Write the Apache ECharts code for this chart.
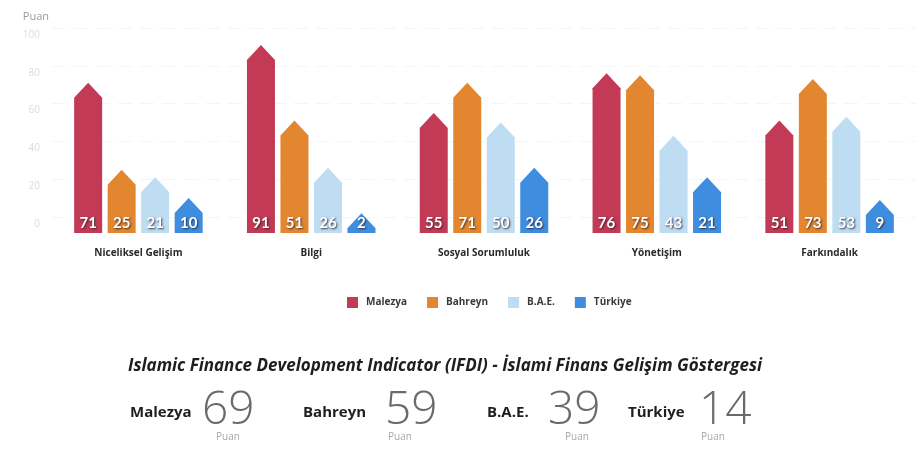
<!DOCTYPE html>
<html>
<head>
<meta charset="utf-8">
<script src="https://cdn.jsdelivr.net/npm/echarts@6/dist/echarts.min.js"></script>
<style>
  html, body { margin: 0; padding: 0; background: #fff; }
  #chart { width: 923px; height: 454px; }
</style>
</head>
<body>
<div id="chart"></div>
<script>
// Pillar categories of the indicator
const categories = ['Niceliksel Gelişim', 'Bilgi', 'Sosyal Sorumluluk', 'Yönetişim', 'Farkındalık'];

// Scores per country for each pillar
const countries = ['Malezya', 'Bahreyn', 'B.A.E.', 'Türkiye'];
const malezya = [71, 91, 55, 76, 51];
const bahreyn = [25, 51, 71, 75, 73];
const bae     = [21, 26, 50, 43, 53];
const turkiye = [10, 2, 26, 21, 9];

// Overall IFDI scores
const ifdiScores = [69, 59, 39, 14];

// Y axis ticks
const yMin = 0, yMax = 100, yStep = 20;

const colors = ['#c23a55', '#e2872f', '#bedcf2', '#3e8ddf'];
const seriesValues = [malezya, bahreyn, bae, turkiye];

const BAR_W = 28;      // px width of each arrow bar
const BAR_GAP = 5.5;   // px between bars inside a group
const TIP_H = 15;      // px height of the arrow head
const FOOT = 16;       // px the bar extends below the zero line (label plinth)

function arrowRenderer(idx) {
  return function (params, api) {
    const cat = api.value(0);
    const val = api.value(1);
    const top = api.coord([cat, val]);
    const zero = api.coord([cat, 0]);
    const xc = top[0] + (idx - 1.5) * (BAR_W + BAR_GAP);
    const bottom = zero[1] + FOOT;
    const peak = top[1];
    const shoulder = Math.min(peak + TIP_H, bottom);
    const half = (shoulder - peak) >= TIP_H ? BAR_W / 2 : (BAR_W / 2) * (shoulder - peak) / TIP_H;
    const pts = [
      [xc - half, bottom],
      [xc - half, shoulder],
      [xc, peak],
      [xc + half, shoulder],
      [xc + half, bottom]
    ];
    return {
      type: 'group',
      children: [
        {
          type: 'polygon',
          shape: { points: pts },
          style: { fill: api.visual('color') }
        },
        {
          type: 'text',
          x: xc,
          y: zero[1] + 6,
          style: {
            text: String(val),
            fill: '#ffffff',
            font: 'bold 15px Lato, "Open Sans", sans-serif',
            align: 'center',
            verticalAlign: 'middle',
            textShadowColor: 'rgba(40,30,40,0.85)',
            textShadowBlur: 2,
            textShadowOffsetX: 1,
            textShadowOffsetY: 1
          },
          z2: 10
        }
      ]
    };
  };
}

const series = countries.map(function (name, i) {
  return {
    name: name,
    type: 'custom',
    color: colors[i],
    itemStyle: { color: colors[i] },
    renderItem: arrowRenderer(i),
    encode: { x: 0, y: 1 },
    data: seriesValues[i].map(function (v, c) { return [c, v]; }),
    clip: false
  };
});

// Summary line: country name, big score, "Puan" caption
const statLayout = [
  { name: 130, num: 202, cap: 216 },
  { name: 303, num: 385, cap: 388 },
  { name: 487, num: 548, cap: 565 },
  { name: 628, num: 699, cap: 701 }
];
const statGraphics = [];
countries.forEach(function (name, i) {
  const L = statLayout[i];
  statGraphics.push({
    type: 'text', left: L.name, top: 405,
    style: { text: name, fill: '#1e1e1e', font: 'bold 15px "Open Sans", sans-serif' }
  });
  statGraphics.push({
    type: 'text', left: L.num, top: 388,
    style: { text: String(ifdiScores[i]), fill: '#6a6a6a', font: '300 46px "Open Sans", sans-serif' }
  });
  statGraphics.push({
    type: 'text', left: L.cap, top: 432,
    style: { text: 'Puan', fill: '#a8a8a8', font: '10px "Open Sans", sans-serif' }
  });
});

const chart = echarts.init(document.getElementById('chart'), null, { renderer: 'canvas' });
chart.setOption({
  backgroundColor: '#ffffff',
  animation: false,
  grid: { left: 52, right: 7, top: 28, height: 189, containLabel: false },
  legend: {
    data: countries,
    left: 342,
    top: 292,
    icon: 'rect',
    itemWidth: 11,
    itemHeight: 11,
    itemGap: 20,
    textStyle: { color: '#3a3a3a', fontSize: 10, fontWeight: 'bold', fontFamily: '"Open Sans", sans-serif', padding: [0, 0, 0, 3] }
  },
  xAxis: {
    type: 'category',
    data: categories,
    axisLine: { show: false },
    axisTick: { show: false },
    axisLabel: {
      margin: 31,
      color: '#2a2a2a',
      fontSize: 10,
      fontWeight: 'bold',
      fontFamily: '"Open Sans", sans-serif'
    }
  },
  yAxis: {
    type: 'value',
    min: yMin,
    max: yMax,
    interval: yStep,
    name: 'Puan',
    nameLocation: 'end',
    nameGap: 6,
    nameTextStyle: { color: '#9a9a9a', fontSize: 11, align: 'right', padding: [0, 3, 0, 0], fontFamily: '"Open Sans", sans-serif' },
    axisLine: { show: false },
    axisTick: { show: false },
    axisLabel: {
      color: '#dcdcdc',
      fontSize: 10,
      margin: 12,
      verticalAlign: 'top',
      padding: [2, 0, 0, 0],
      fontFamily: '"Open Sans", sans-serif'
    },
    splitLine: { lineStyle: { color: '#f5f5f5', type: [14, 8] } }
  },
  series: series,
  graphic: [
    {
      type: 'text', left: 128, top: 358,
      style: {
        text: 'Islamic Finance Development Indicator (IFDI) - İslami Finans Gelişim Göstergesi',
        fill: '#1e1e1e',
        font: 'italic bold 17px "Open Sans", sans-serif'
      }
    }
  ].concat(statGraphics)
});
</script>
</body>
</html>
